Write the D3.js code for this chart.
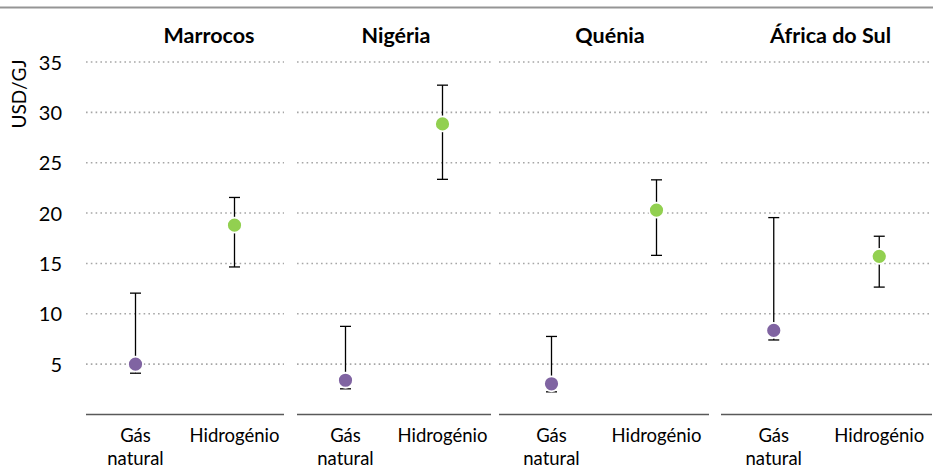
<!DOCTYPE html>
<html>
<head>
<meta charset="utf-8">
<script src="https://cdn.jsdelivr.net/npm/d3@7"></script>
<style>
  html, body { margin: 0; padding: 0; background: #fff; }
  svg { display: block; }
  text { font-family: Lato, "Open Sans", sans-serif; fill: #000; }
</style>
</head>
<body>
<svg id="chart" width="933" height="468"></svg>
<script>
// Cost ranges (USD/GJ) per country: central estimate with low/high range
const countries = ["Marrocos", "Nigéria", "Quénia", "África do Sul"];
const categories = ["Gás natural", "Hidrogénio"];
const gasMid  = [5.0, 3.4, 3.05, 8.35];
const gasLow  = [4.1, 2.55, 2.25, 7.4];
const gasHigh = [12.05, 8.75, 7.75, 19.55];
const h2Mid   = [18.8, 28.85, 20.3, 15.7];
const h2Low   = [14.65, 23.35, 15.8, 12.65];
const h2High  = [21.55, 32.7, 23.3, 17.7];
const yTicks  = [5, 10, 15, 20, 25, 30, 35];
const yLabel  = "USD/GJ";

// Layout
const W = 933, H = 468;
const panelSpans = [[86, 284], [297, 491], [499, 709], [721, 932]];
const titleShift = [24, 2, 6, 4];
const colors = { "Gás natural": "#8064a2", "Hidrogénio": "#92d050" };

const svg = d3.select("#chart");

const y = d3.scaleLinear().domain([0, 35]).range([414.5, 62]);

// Top rule
svg.append("line")
  .attr("x1", 0).attr("x2", W).attr("y1", 7.5).attr("y2", 7.5)
  .attr("stroke", "#959595").attr("stroke-width", 2.2);

// Y axis labels
const yAxis = d3.axisLeft(y).tickValues(yTicks).tickSize(0).tickPadding(0);
const gy = svg.append("g").attr("transform", "translate(62,0)").call(yAxis);
gy.select(".domain").remove();
gy.selectAll("text")
  .attr("font-size", 20).attr("font-family", "Lato, sans-serif")
  .attr("fill", "#000").attr("dy", "0.36em");

svg.append("text")
  .attr("transform", "translate(26,94) rotate(-90)")
  .attr("text-anchor", "middle")
  .attr("font-size", 19)
  .text(yLabel);

const series = [
  { cat: "Gás natural", mid: gasMid, low: gasLow, high: gasHigh },
  { cat: "Hidrogénio", mid: h2Mid, low: h2Low, high: h2High }
];

countries.forEach((country, i) => {
  const [x0, x1] = panelSpans[i];
  const x = d3.scaleBand().domain(categories).range([x0, x1]).padding(0);
  const g = svg.append("g");

  // Dotted gridlines
  g.selectAll("line.grid").data(yTicks).join("line")
    .attr("class", "grid")
    .attr("x1", x0).attr("x2", x1)
    .attr("y1", d => y(d)).attr("y2", d => y(d))
    .attr("stroke", "#a6a6a6").attr("stroke-width", 1.6)
    .attr("stroke-dasharray", "1.6 3.2");

  // Baseline
  g.append("line")
    .attr("x1", x0).attr("x2", x1)
    .attr("y1", y(0)).attr("y2", y(0))
    .attr("stroke", "#595959").attr("stroke-width", 1.6);

  // Panel title
  g.append("text")
    .attr("x", (x0 + x1) / 2 + titleShift[i]).attr("y", 43)
    .attr("text-anchor", "middle")
    .attr("font-size", 21.5).attr("font-weight", 700)
    .text(country);

  // Category labels
  categories.forEach(c => {
    const cx = x(c) + x.bandwidth() / 2;
    const words = c === "Gás natural" ? ["Gás", "natural"] : [c];
    const t = g.append("text")
      .attr("text-anchor", "middle")
      .attr("font-size", 18.5);
    words.forEach((w, k) => {
      t.append("tspan").attr("x", cx).attr("y", 442 + k * 23).text(w);
    });
  });

  // Error bars and markers
  series.forEach(s => {
    const cx = x(s.cat) + x.bandwidth() / 2;
    const lo = s.low[i], hi = s.high[i], mid = s.mid[i];
    g.append("line")
      .attr("x1", cx).attr("x2", cx)
      .attr("y1", y(lo)).attr("y2", y(hi))
      .attr("stroke", "#000").attr("stroke-width", 1.3);
    [lo, hi].forEach(v => {
      g.append("line")
        .attr("x1", cx - 5.5).attr("x2", cx + 5.5)
        .attr("y1", y(v)).attr("y2", y(v))
        .attr("stroke", "#000").attr("stroke-width", 1.3);
    });
    g.append("circle")
      .attr("cx", cx).attr("cy", y(mid)).attr("r", 7.5)
      .attr("fill", colors[s.cat])
      .attr("stroke", "#fff").attr("stroke-width", 1.8);
  });
});
</script>
</body>
</html>
